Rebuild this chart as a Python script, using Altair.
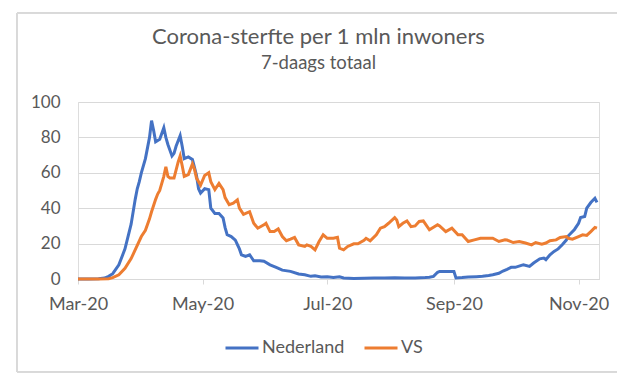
import altair as alt
import pandas as pd

# Day offsets from 2020-03-01 and values (deaths per 1 mln, 7-day total)
nl_days = [0, 5, 10, 13, 15, 17, 20, 23, 26, 28, 29, 30, 31, 33, 35, 36, 37, 38, 40, 42, 43, 44, 46, 47, 48,
           50, 51, 52, 54, 56, 57, 58, 59, 60, 62, 64, 65, 67, 69, 71, 72, 73, 75, 77, 79, 80, 82, 84, 85,
           86, 89, 91, 94, 97, 100, 104, 108, 111, 114, 116, 119, 122, 125, 128, 130, 135, 140, 145, 150,
           155, 160, 165, 170, 172, 174, 176, 177, 180, 184, 185, 188, 191, 195, 198, 201, 203, 206, 208,
           210, 212, 214, 217, 218, 221, 223, 226, 228, 229, 231, 233, 235, 237, 239, 240, 243, 245, 246,
           248, 249, 251, 253, 254]
nl_vals = [0, 0, 0.2, 0.5, 1.5, 3, 8, 17, 31, 45, 51, 55, 60, 68, 80, 89.5, 84, 77.5, 79, 85.5, 80, 76, 69.5,
           71, 75, 81, 75, 68, 69, 67.5, 63, 58.5, 51, 48.5, 51, 50.5, 40, 37, 37, 34.5, 29, 25, 24, 22, 17,
           13.7, 12.8, 13.7, 12, 10.3, 10.3, 10, 8, 6.6, 5, 4.3, 2.8, 2.4, 1.5, 1.8, 1.1, 1.2, 0.8, 1.3, 0.6,
           0.3, 0.4, 0.5, 0.5, 0.7, 0.6, 0.6, 0.8, 1, 1.5, 3.8, 4.3, 4.3, 4.2, 0.6, 0.8, 1.1, 1.3, 1.5, 2,
           2.4, 3.2, 4.5, 5.5, 6.6, 6.6, 7.7, 8, 7.1, 9, 11.4, 11.8, 10.9, 13.7, 15.6, 17, 19.3, 22, 24.4,
           28, 31.5, 34.7, 35.3, 40, 43.2, 45.6, 43.3]

vs_days = [0, 10, 15, 17, 20, 23, 26, 29, 31, 33, 35, 36, 38, 39, 40, 42, 43, 44, 45, 47, 49, 50, 51, 52, 54,
           56, 57, 58, 60, 62, 64, 65, 67, 69, 71, 72, 74, 76, 78, 79, 81, 84, 86, 88, 91, 92, 94, 96, 98,
           100, 102, 104, 106, 108, 111, 112, 114, 116, 118, 120, 122, 125, 127, 128, 130, 132, 135, 137,
           140, 141, 143, 146, 148, 150, 152, 155, 156, 157, 159, 161, 163, 165, 167, 169, 172, 176, 177,
           180, 183, 186, 188, 191, 194, 197, 200, 203, 206, 209, 210, 213, 216, 219, 222, 224, 227, 229,
           231, 234, 236, 239, 240, 242, 245, 247, 249, 251, 253, 254]
vs_vals = [0, 0, 0.2, 0.8, 2.4, 6, 11.5, 19, 24, 27.5, 34, 38, 45, 48, 50, 58, 63.4, 58, 57, 57, 66, 69.5, 64,
           58, 59, 65, 62, 57, 53, 58.5, 60, 55, 50.5, 54, 50.5, 46, 42, 42.8, 44.7, 40, 36.5, 38, 31.5, 28.7,
           30.6, 31.5, 26.8, 26.8, 28.3, 24, 21.6, 22.5, 23.5, 19.3, 18.4, 19.3, 18.4, 16.5, 21.2, 25, 23,
           23, 23.5, 17.4, 16.5, 18.4, 19.9, 19.9, 21.8, 23, 21.6, 25, 28.7, 29.6, 31.5, 34.7, 33.4, 29.6,
           31.5, 32.8, 29.6, 30, 32.5, 32.8, 27.8, 30.6, 30, 26.8, 28.7, 25, 25, 21.2, 22.1, 23, 23, 23,
           21.2, 22.1, 22, 20.6, 21.2, 20.3, 19.3, 20.6, 19.7, 20.3, 21.6, 22.1, 23.5, 24, 23, 22.5, 24, 25,
           24.6, 26.8, 29.1, 28.7]

series_names = ["Nederland", "VS"]
series_colors = ["#4472C4", "#ED7D31"]
y_ticks = [0, 20, 40, 60, 80, 100]
x_tick_months = [3, 5, 7, 9, 11]

start = pd.Timestamp("2020-03-01")
rows = []
for name, days, vals in [("Nederland", nl_days, nl_vals), ("VS", vs_days, vs_vals)]:
    for d, v in zip(days, vals):
        rows.append({"date": (start + pd.Timedelta(days=d)).strftime("%Y-%m-%d"),
                     "value": v, "land": name})
df = pd.DataFrame(rows)

text_color = "#595959"
font = "Lato"

x_enc = alt.X(
    "date:T",
    scale=alt.Scale(type="utc",
                    domain=[alt.DateTime(year=2020, month=3, date=1, utc=True),
                            alt.DateTime(year=2020, month=11, date=11, utc=True)]),
    axis=alt.Axis(
        title=None,
        values=[alt.DateTime(year=2020, month=m, date=1, utc=True) for m in x_tick_months],
        labelExpr="utcFormat(datum.value, '%b-%y')",
        grid=False, domainColor="#d9d9d9", tickColor="#d9d9d9", tickSize=5,
        labelFlush=False, labelOverlap=False,
        labelPadding=11, labelFontSize=18, labelColor=text_color, labelFont=font,
    ),
)
y_enc = alt.Y(
    "value:Q",
    scale=alt.Scale(domain=[0, 100], nice=False),
    axis=alt.Axis(
        title=None, values=y_ticks, domain=False, ticks=False, gridColor="#d9d9d9",
        labelPadding=18, labelFontSize=17, labelColor=text_color, labelFont=font,
    ),
)

lines = alt.Chart(df).mark_line(strokeWidth=3, interpolate="linear").encode(
    x=x_enc,
    y=y_enc,
    color=alt.Color(
        "land:N",
        scale=alt.Scale(domain=series_names, range=series_colors),
        legend=alt.Legend(
            title=None, orient="none", direction="horizontal", legendX=146, legendY=228,
            symbolType="stroke", symbolSize=1089, symbolStrokeWidth=3, labelFontSize=18,
            labelColor=text_color, labelFont=font, columnPadding=13, labelOffset=2,
        ),
    ),
)

frame = alt.Chart(df).mark_rect(fill=None, stroke="#d9d9d9", strokeWidth=1).encode(
    x=alt.value(-61), x2=alt.value(540), y=alt.value(-89), y2=alt.value(270)
)

chart = alt.layer(frame, lines).properties(
    width=521, height=177,
    autosize=alt.AutoSizeParams(type="none"),
    padding={"left": 70, "top": 94, "right": 18, "bottom": 94},
    title=alt.TitleParams(
        text="Corona-sterfte per 1 mln inwoners", subtitle="7-daags totaal",
        anchor="middle", offset=-61, dx=-20, fontSize=22, subtitleFontSize=18.5,
        font=font, subtitleFont=font, fontWeight="normal", color=text_color,
        subtitleColor=text_color, subtitlePadding=5,
    ),
).configure_view(stroke=None).configure(background="white")

chart.save("out.html", embed_options={"renderer": "svg", "actions": False})
